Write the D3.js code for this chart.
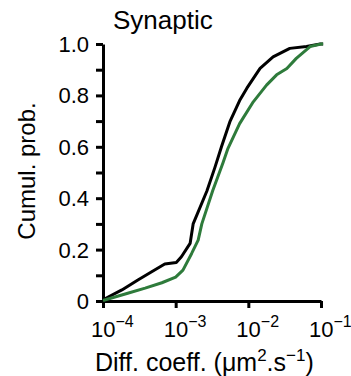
<!DOCTYPE html>
<html>
<head>
<meta charset="utf-8">
<script src="https://cdn.jsdelivr.net/npm/d3@7/dist/d3.min.js"></script>
<style>
  body { margin: 0; background: #fff; }
  text { font-family: "Liberation Sans", Arial, sans-serif; fill: #000; }
</style>
</head>
<body>
<div id="canvas"></div>
<script>
// diffusion coefficients (um^2/s) and cumulative probability
var blackD = [1e-4, 1.82e-4, 3.02e-4, 4.68e-4, 7.08e-4, 1.02e-3, 1.20e-3, 1.58e-3, 1.74e-3, 2.69e-3, 3.47e-3, 4.27e-3, 5.62e-3, 7.59e-3, 9.55e-3, 1.45e-2, 2.19e-2, 3.72e-2, 6.31e-2, 9.77e-2, 1.07e-1];
var blackP = [0.005, 0.043, 0.082, 0.114, 0.144, 0.150, 0.172, 0.224, 0.300, 0.428, 0.520, 0.600, 0.700, 0.780, 0.828, 0.905, 0.950, 0.983, 0.990, 1.0, 1.0];
var greenD = [1e-4, 2.19e-4, 3.80e-4, 6.46e-4, 1.0e-3, 1.26e-3, 1.66e-3, 2.04e-3, 2.29e-3, 3.24e-3, 4.47e-3, 5.25e-3, 7.59e-3, 1.17e-2, 1.78e-2, 2.45e-2, 3.39e-2, 4.57e-2, 7.08e-2, 1.0e-1, 1.07e-1];
var greenP = [0.002, 0.030, 0.050, 0.071, 0.093, 0.120, 0.185, 0.237, 0.300, 0.430, 0.537, 0.594, 0.690, 0.775, 0.840, 0.880, 0.905, 0.944, 0.990, 1.0, 1.0];
var xTicks = [1e-4, 1e-3, 1e-2, 1e-1];
var xExps = ["\u22124", "\u22123", "\u22122", "\u22121"];
var yTicks = [0, 0.1, 0.2, 0.3, 0.4, 0.5, 0.6, 0.7, 0.8, 0.9, 1.0];
var yLabels = ["0", "", "0.2", "", "0.4", "", "0.6", "", "0.8", "", "1.0"];

var width = 351, height = 376;
var svg = d3.select("#canvas").append("svg").attr("width", width).attr("height", height);

var x = d3.scaleLog().domain([1e-4, 1e-1]).range([103, 321]);
var y = d3.scaleLinear().domain([0, 1]).range([301, 44]);

// y axis
var yAxis = svg.append("g").attr("transform", "translate(103,0)")
    .call(d3.axisLeft(y).tickValues(yTicks).tickSize(7).tickSizeOuter(0).tickFormat(""));
// x axis
var xAxis = svg.append("g").attr("transform", "translate(0,301)")
    .call(d3.axisBottom(x).tickValues(xTicks).tickSize(7).tickSizeOuter(0).tickFormat(""));
svg.selectAll(".domain, .tick line").attr("stroke", "#000").attr("stroke-width", 3);

// y tick labels
yTicks.forEach(function(t, i) {
    if (!yLabels[i]) return;
    svg.append("text")
        .attr("x", 89)
        .attr("y", y(t) + 8)
        .attr("text-anchor", "end")
        .style("font-size", "22px")
        .text(yLabels[i]);
});

// x tick labels: 10 with superscript exponent
xTicks.forEach(function(t, i) {
    var lbl = svg.append("text")
        .attr("x", x(t) - 12)
        .attr("y", 337)
        .style("font-size", "22px");
    lbl.append("tspan").text("10");
    lbl.append("tspan").attr("dy", -10).style("font-size", "16px").text(xExps[i]);
});

// curves
var line = d3.line().x(function(d) { return x(d[0]); }).y(function(d) { return y(d[1]); });
svg.append("path")
    .datum(blackD.map(function(d, i) { return [d, blackP[i]]; }))
    .attr("d", line).attr("fill", "none")
    .attr("stroke", "#000").attr("stroke-width", 3).attr("stroke-linejoin", "round");
svg.append("path")
    .datum(greenD.map(function(d, i) { return [d, greenP[i]]; }))
    .attr("d", line).attr("fill", "none")
    .attr("stroke", "#2e7b3b").attr("stroke-width", 3).attr("stroke-linejoin", "round");

// title
svg.append("text").attr("x", 113).attr("y", 29).style("font-size", "26px").text("Synaptic");

// y axis title
svg.append("text")
    .attr("transform", "translate(35,171) rotate(-90)")
    .attr("text-anchor", "middle")
    .style("font-size", "24px")
    .text("Cumul. prob.");

// x axis title
var xt = svg.append("text").attr("x", 95).attr("y", 371).style("font-size", "25px");
xt.append("tspan").text("Diff. coeff. (\u03bcm");
xt.append("tspan").attr("dy", -10).style("font-size", "17px").text("2");
xt.append("tspan").attr("dy", 10).text(".s");
xt.append("tspan").attr("dy", -10).style("font-size", "17px").text("\u22121");
xt.append("tspan").attr("dy", 10).text(")");
</script>
</body>
</html>
